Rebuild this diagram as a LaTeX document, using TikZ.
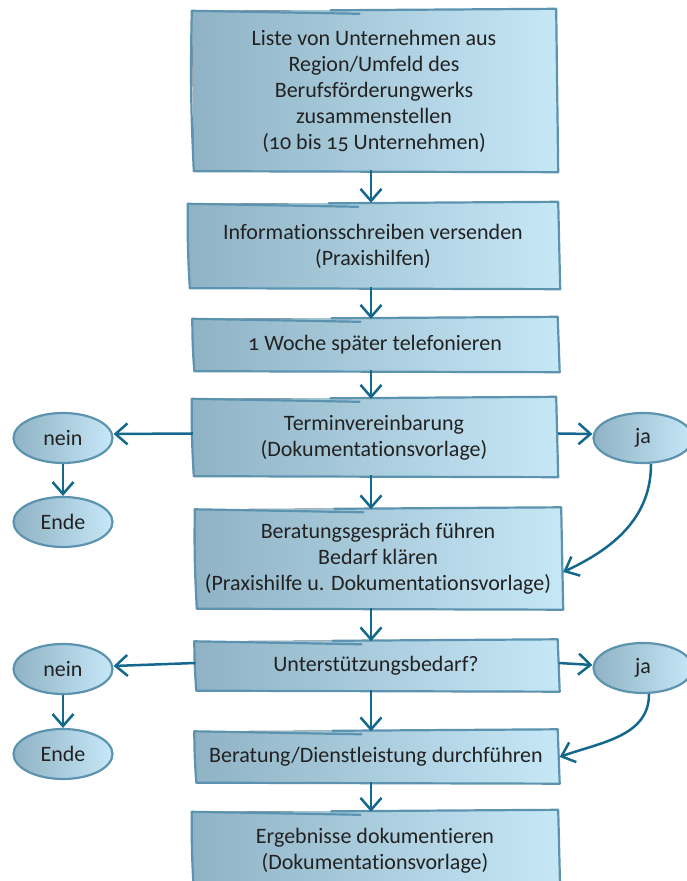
\documentclass[tikz,border=0pt]{standalone}
\usepackage{fontspec}
\setmainfont[Numbers=OldStyle,Ligatures=NoCommon]{Carlito}
\usetikzlibrary{arrows.meta,backgrounds,calc,shapes.geometric}
\definecolor{boxL}{HTML}{8FB3C5}
\definecolor{boxR}{HTML}{C6E7F6}
\definecolor{bord}{HTML}{5C93AE}
\definecolor{arrc}{HTML}{14688C}
\definecolor{txt}{HTML}{222222}
\tikzset{
  stepbox/.style={rectangle, inner sep=0pt, align=center, text=txt,
    font=\fontsize{22}{26}\selectfont},
  skline/.style={draw=bord, line width=2.2pt, line join=round, line cap=round},
  oval/.style={ellipse, draw=bord, line width=2.2pt, left color=boxL, right color=boxR,
    minimum width=99pt, minimum height=50pt, inner sep=0pt, text=txt,
    font=\fontsize{22}{26}\selectfont},
  arr/.style={draw=arrc, line width=2.5pt, -{Straight Barb[length=12pt,width=21pt,line width=2.5pt]}},
}
\newcommand\skbox[1]{%
  \begin{scope}[on background layer]
  \fill[left color=boxL, right color=boxR]
    ([shift={(-1,1)}]#1.north west) -- ([shift={(1,3)}]#1.north east)
    -- ([shift={(3,-2)}]#1.south east) -- ([shift={(1,-1)}]#1.south west) -- cycle;
  \draw[skline] ([shift={(-1,1)}]#1.north west) -- ($(#1.north west)!0.46!(#1.north east)+(0,-2)$);
  \draw[skline] ($(#1.north west)!0.38!(#1.north east)+(0,1.5)$) -- ([shift={(1,3)}]#1.north east)
    -- ([shift={(3,-2)}]#1.south east) -- ([shift={(1,-1)}]#1.south west)
    to[bend left=2] ([shift={(-1,1)}]#1.north west);
  \end{scope}}
\begin{document}
\begin{tikzpicture}[x=1pt,y=1pt]
\useasboundingbox (0,0) rectangle (687,881);
\begin{scope}
\clip (0,0) rectangle (687,881);
% boxes (y = 881 - pixel y)
\node[stepbox, minimum width=362, minimum height=158] (b1) at (374,790)
  {Liste von Unternehmen aus\\Region/Umfeld des\\Berufsförderungwerks\\zusammenstellen\\(10 bis 15 Unternehmen)};
\node[stepbox, minimum width=368, minimum height=82] (b2) at (373,635)
  {Informationsschreiben versenden\\(Praxishilfen)};
\node[stepbox, minimum width=363, minimum height=50] (b3) at (375,536)
  {1 Woche später telefonieren};
\node[stepbox, minimum width=362, minimum height=75] (b4) at (374,443.5)
  {Terminvereinbarung\\(Dokumentationsvorlage)};
\node[stepbox, minimum width=364, minimum height=97] (b5) at (378,322)
  {Beratungsgespräch führen\\Bedarf klären\\(Praxishilfe u. Dokumentationsvorlage)};
\node[stepbox, minimum width=361, minimum height=47] (b6) at (376,215)
  {Unterstützungsbedarf?};
\node[stepbox, minimum width=361, minimum height=49] (b7) at (376,124)
  {Beratung/Dienstleistung durchführen};
\node[stepbox, minimum width=364, minimum height=76] (b8) at (375,30)
  {Ergebnisse dokumentieren\\(Dokumentationsvorlage)};
\foreach \b in {b1,b2,b3,b4,b5,b6,b7,b8} {\skbox{\b}}
% ovals
\node[oval] (n1) at (63,443) {nein};
\node[oval] (e1) at (63,359) {Ende};
\node[oval] (j1) at (643,443) {ja};
\node[oval] (n2) at (63,212) {nein};
\node[oval] (e2) at (63,127) {Ende};
\node[oval] (j2) at (643,213) {ja};
% connectors
\coordinate (ax) at (371,0);
\draw[arr] (b1.south -| ax) -- ([yshift=2]b2.north -| ax);
\draw[arr] (b2.south -| ax) -- ([yshift=1]b3.north -| ax);
\draw[arr] (b3.south -| ax) -- ([yshift=1]b4.north -| ax);
\draw[arr] (b4.south -| ax) -- ([yshift=1]b5.north -| ax);
\draw[arr] (b5.south -| ax) -- ([yshift=1]b6.north -| ax);
\draw[arr] (b6.south -| ax) -- ([yshift=1]b7.north -| ax);
\draw[arr] (b7.south -| ax) -- ([yshift=1]b8.north -| ax);
\draw[arr] ([yshift=4]b4.west) -- ([yshift=4]n1.east);
\draw[arr] ([xshift=3,yshift=4]b4.east) -- ([yshift=4]j1.west);
\draw[arr] (n1.south) -- (e1.north);
\draw[arr] ([xshift=8]j1.south) to[out=-90,in=25] ([xshift=3,yshift=-13]b5.east);
\draw[arr] ([yshift=3]b6.west) -- ([yshift=3]n2.east);
\draw[arr] ([xshift=2,yshift=3]b6.east) -- ([yshift=3]j2.west);
\draw[arr] (n2.south) -- (e2.north);
\draw[arr] ([xshift=6]j2.south) to[out=-90,in=20] ([xshift=3]b7.east);
\end{scope}
\end{tikzpicture}
\end{document}
